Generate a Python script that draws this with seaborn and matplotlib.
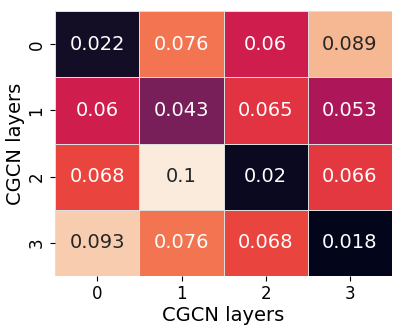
import numpy as np
import matplotlib
matplotlib.use("Agg")
import matplotlib.pyplot as plt
import seaborn as sns

layers = [0, 1, 2, 3]
row0 = [0.022, 0.076, 0.06, 0.089]
row1 = [0.06, 0.043, 0.065, 0.053]
row2 = [0.068, 0.1, 0.02, 0.066]
row3 = [0.093, 0.076, 0.068, 0.018]

values = np.array([row0, row1, row2, row3])

fig, ax = plt.subplots(figsize=(4, 3.28), dpi=100)
sns.heatmap(values, annot=True, fmt=".2g", cbar=False, cmap="rocket",
            linewidths=0.5, linecolor="#dddddd",
            xticklabels=layers, yticklabels=layers,
            annot_kws={"fontsize": 14}, ax=ax)
ax.set_xlabel("CGCN layers", fontsize=14, labelpad=2)
ax.set_ylabel("CGCN layers", fontsize=14, labelpad=2)
ax.tick_params(labelsize=12)
plt.setp(ax.get_yticklabels(), rotation=90, va="center")
fig.subplots_adjust(left=0.138, right=0.98, top=0.965, bottom=0.16)
fig.savefig("out.png")
